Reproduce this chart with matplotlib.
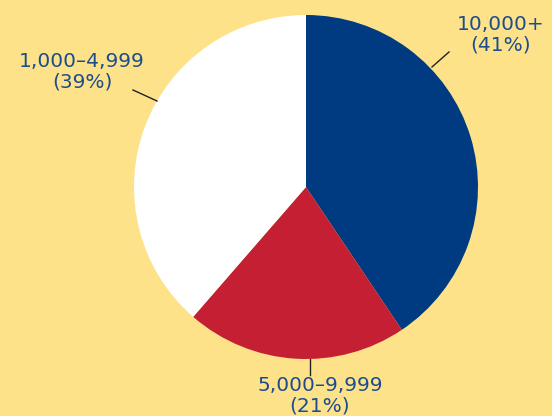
import matplotlib.pyplot as plt
import numpy as np

categories = ["10,000+", "5,000\u20139,999", "1,000\u20134,999"]
shares = [41, 21, 39]
colors = ["#003A80", "#C41F33", "#FFFFFF"]

W, H = 552, 416
fig = plt.figure(figsize=(W / 100, H / 100), dpi=100, facecolor="#FDE28A")
ax = fig.add_axes([0, 0, 1, 1])

cx, cy, r = 306, H - 187, 172
ax.pie(shares, colors=colors, startangle=90, counterclock=False,
       center=(cx, cy), radius=r, frame=True,
       wedgeprops=dict(linewidth=0))
ax.set_xlim(0, W)
ax.set_ylim(0, H)
ax.set_aspect("equal")
ax.axis("off")

txt = "#1C4D8C"
font = dict(family="DejaVu Sans", fontsize=14.5, color=txt, ha="center",
            va="center", linespacing=1.1)

# label placements (text centre) and leader lines
label_pos = {
    "10,000+": (501, H - 35),
    "5,000\u20139,999": (320, H - 396),
    "1,000\u20134,999": (82, H - 72),
}
leaders = {
    "10,000+": [(432, H - 67), (449, H - 52)],
    "5,000\u20139,999": [(310, H - 359), (310, H - 375)],
    "1,000\u20134,999": [(157, H - 101), (133, H - 90)],
}
for cat, val in zip(categories, shares):
    x, y = label_pos[cat]
    ax.text(x, y, f"{cat}\n({val}%)", **font)
    (x0, y0), (x1, y1) = leaders[cat]
    ax.plot([x0, x1], [y0, y1], color="#222222", lw=1.0)

fig.savefig("out.png", dpi=100, facecolor=fig.get_facecolor())
